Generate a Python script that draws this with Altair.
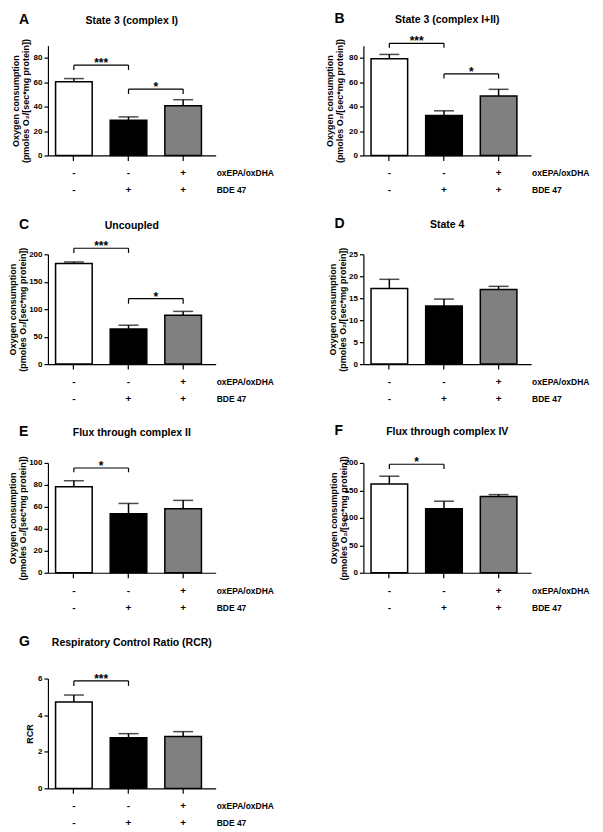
import altair as alt
import pandas as pd

FONT = "Liberation Sans"

# ---- categories & treatment rows ----
cats = ["Control", "BDE 47", "BDE 47 + oxEPA/oxDHA"]
ox_row = ["-", "-", "+"]
bde_row = ["-", "+", "+"]
row_names = ["oxEPA/oxDHA", "BDE 47"]
fills = ["#ffffff", "#000000", "#808080"]

letters = ["A", "B", "C", "D", "E", "F", "G"]
titles = ["State 3 (complex I)", "State 3 (complex I+II)", "Uncoupled", "State 4",
          "Flux through complex II", "Flux through complex IV",
          "Respiratory Control Ratio (RCR)"]
o2_title = ["Oxygen consumption", "(pmoles O\u2082/[sec*mg protein])"]
ytitles = [o2_title] * 6 + ["RCR"]

# ---- values (mean, SEM) ----
mean_A = [60.5, 28.8, 40.8]; sem_A = [2.5, 2.8, 4.9]
mean_B = [79.2, 32.7, 48.7]; sem_B = [3.6, 3.9, 5.5]
mean_C = [183.0, 64.0, 89.0]; sem_C = [3.0, 6.8, 7.0]
mean_D = [17.2, 13.2, 17.0]; sem_D = [2.1, 1.6, 0.7]
mean_E = [78.4, 53.7, 58.2]; sem_E = [5.4, 9.4, 7.7]
mean_F = [161.8, 116.4, 138.8]; sem_F = [14.0, 13.9, 3.5]
mean_G = [4.72, 2.77, 2.84]; sem_G = [0.38, 0.22, 0.26]

ymax_list = [90, 90, 200, 25, 100, 200, 6]
ticks_A = [0, 20, 40, 60, 80]
ticks_B = [0, 20, 40, 60, 80]
ticks_C = [0, 50, 100, 150, 200]
ticks_D = [0, 5, 10, 15, 20, 25]
ticks_E = [0, 20, 40, 60, 80, 100]
ticks_F = [0, 50, 100, 150, 200]
ticks_G = [0, 2, 4, 6]

# ---- significance brackets ----
br_A = {"a": [cats[0], cats[1]], "b": [cats[1], cats[2]], "top": [74, 54.4], "end": [70, 50.4], "lab": ["***", "*"]}
br_B = {"a": [cats[0], cats[1]], "b": [cats[1], cats[2]], "top": [91.9, 66.8], "end": [88.3, 63.0], "lab": ["***", "*"]}
br_C = {"a": [cats[0], cats[1]], "b": [cats[1], cats[2]], "top": [211, 119.4], "end": [202.5, 110], "lab": ["***", "*"]}
br_D = None
br_E = {"a": [cats[0]], "b": [cats[1]], "top": [95.4], "end": [91.5], "lab": ["*"]}
br_F = {"a": [cats[0]], "b": [cats[1]], "top": [197.6], "end": [189], "lab": ["*"]}
br_G = {"a": [cats[0]], "b": [cats[1]], "top": [5.87], "end": [5.6], "lab": ["***"]}

# ---- layout constants ----
W, H = 168, 110
P_IN, P_OUT, ALIGN = 0.33, 0.2, 0.35
STEP = W / (len(cats) - P_IN + 2 * P_OUT)
title_dy = [-22, -23, -25, -26, -27, -28, -33]
ytitle_x = [-32, -34, -35, -31, -35, -30, -18]   # centre of first title line
top_shift = [0, 0, 0, 0, 0, 0, 7]


def panel(i, means, sems, ticks, br):
    sh = top_shift[i]
    ph = H + sh
    xs = alt.Scale(domain=cats, paddingInner=P_IN, paddingOuter=P_OUT, align=ALIGN)
    ys = alt.Scale(domain=[0, ymax_list[i]], nice=False, zero=False, range=[ph, sh])
    x_axis = alt.Axis(labels=False, title=None, tickSize=5, tickWidth=1.2,
                      domainWidth=1.2, grid=False)
    y_axis = alt.Axis(values=ticks, title=ytitles[i], grid=False, tickSize=4,
                      tickWidth=1.2, domainWidth=1.2, labelPadding=2,
                      titleLineHeight=10, titleX=ytitle_x[i], titleY=sh + H / 2,
                      titleBaseline="middle", titleAngle=270)
    df = pd.DataFrame({"cat": cats, "mean": means,
                       "top": [m + s for m, s in zip(means, sems)],
                       "ox": ox_row, "bde": bde_row})
    xn = alt.X("cat:N", scale=xs, axis=x_axis)
    base = alt.Chart(df)
    bars = base.mark_bar(stroke="black", strokeWidth=1.5).encode(
        x=xn,
        y=alt.Y("mean:Q", scale=ys, axis=y_axis),
        fill=alt.Fill("cat:N", scale=alt.Scale(domain=cats, range=fills), legend=None),
    )
    err = base.mark_rule(color="black", strokeWidth=1.5).encode(
        x=xn, y=alt.Y("mean:Q", scale=ys, axis=y_axis), y2=alt.Y2("top"))
    cap = base.mark_tick(color="black", thickness=1.5, size=20).encode(
        x=xn, y=alt.Y("top:Q", scale=ys, axis=y_axis))
    row1 = base.mark_text(fontSize=10, fontWeight="bold", baseline="middle").encode(
        x=xn, y=alt.value(ph + 18), text="ox:N")
    row2 = base.mark_text(fontSize=10, fontWeight="bold", baseline="middle").encode(
        x=xn, y=alt.value(ph + 35), text="bde:N")
    name1 = alt.Chart(pd.DataFrame({"n": [row_names[0]]})).mark_text(
        align="left", baseline="middle", fontSize=8.5, fontWeight="bold").encode(
        x=alt.value(W + 1), y=alt.value(ph + 18), text="n:N")
    name2 = alt.Chart(pd.DataFrame({"n": [row_names[1]]})).mark_text(
        align="left", baseline="middle", fontSize=8.5, fontWeight="bold").encode(
        x=alt.value(W + 1), y=alt.value(ph + 35), text="n:N")
    letter = alt.Chart(pd.DataFrame({"t": [letters[i]]})).mark_text(
        align="left", baseline="alphabetic", fontSize=14, fontWeight="bold").encode(
        x=alt.value(-29), y=alt.value(title_dy[i] + sh), text="t:N")
    ttl = alt.Chart(pd.DataFrame({"t": [titles[i]]})).mark_text(
        align="center", baseline="alphabetic", fontSize=10.5, fontWeight="bold").encode(
        x=alt.value(W / 2), y=alt.value(title_dy[i] + sh), text="t:N")
    layers = [bars, err, cap]
    if br is not None:
        bdf = pd.DataFrame(br)
        bb = alt.Chart(bdf)
        xa = alt.X("a:N", scale=xs, axis=x_axis)
        xb = alt.X("b:N", scale=xs, axis=x_axis)
        ytop = alt.Y("top:Q", scale=ys, axis=y_axis)
        yend = alt.Y("end:Q", scale=ys, axis=y_axis)
        layers += [
            bb.mark_rule(color="black", strokeWidth=1.2).encode(x=xa, x2=alt.X2("b"), y=ytop),
            bb.mark_rule(color="black", strokeWidth=1.2).encode(x=xa, y=yend, y2=alt.Y2("top")),
            bb.mark_rule(color="black", strokeWidth=1.2).encode(x=xb, y=yend, y2=alt.Y2("top")),
            bb.mark_text(dx=STEP / 2, dy=2, baseline="alphabetic", fontSize=12,
                         fontWeight="bold").encode(x=xa, y=ytop, text="lab:N"),
        ]
    layers += [row1, row2, name1, name2, letter, ttl]
    return alt.layer(*layers).properties(width=W, height=ph)


pA = panel(0, mean_A, sem_A, ticks_A, br_A)
pB = panel(1, mean_B, sem_B, ticks_B, br_B)
pC = panel(2, mean_C, sem_C, ticks_C, br_C)
pD = panel(3, mean_D, sem_D, ticks_D, br_D)
pE = panel(4, mean_E, sem_E, ticks_E, br_E)
pF = panel(5, mean_F, sem_F, ticks_F, br_F)
pG = panel(6, mean_G, sem_G, ticks_G, br_G)

chart = alt.concat(pA, pB, pC, pD, pE, pF, pG, columns=2,
                   spacing={"row": 99, "column": 148}, bounds="flush").properties(
    padding={"left": 0, "top": 3, "right": 5, "bottom": 5}
).configure_view(stroke=None).configure_axis(
    labelFont=FONT, titleFont=FONT, labelFontSize=8, labelFontWeight="bold",
    titleFontSize=9, titleFontWeight="bold", labelColor="black", titleColor="black",
    domainColor="black", tickColor="black"
).configure_text(font=FONT, color="black")

chart.save("out.html", embed_options={"renderer": "svg", "actions": False})
